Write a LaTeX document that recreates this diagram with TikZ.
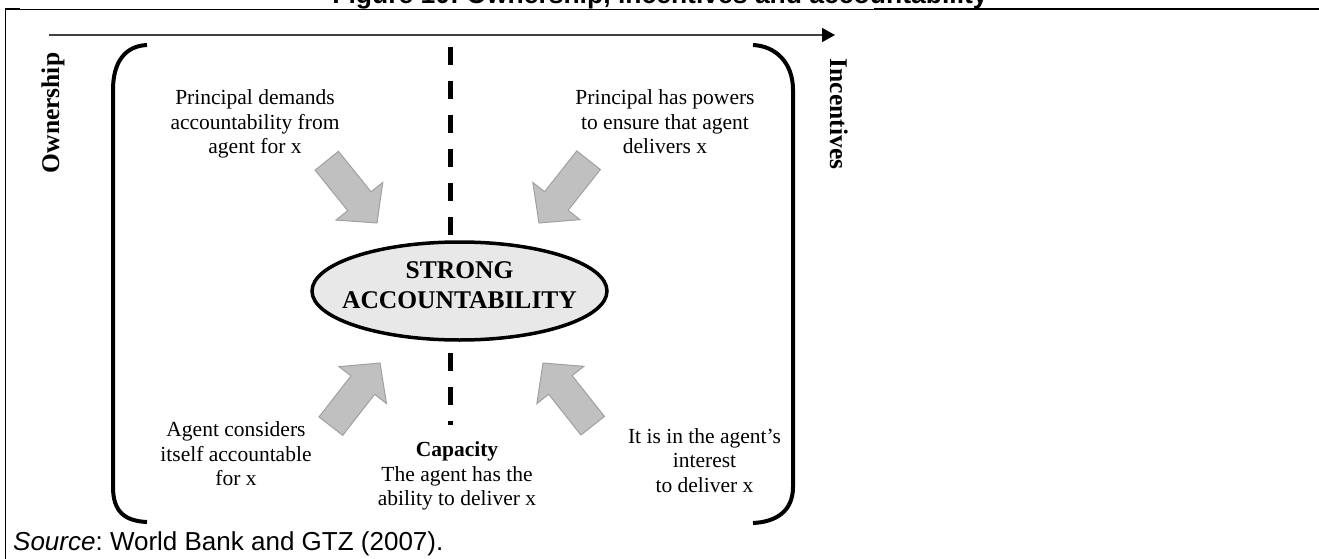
\documentclass[tikz,border=0pt]{standalone}
\usepackage{fontspec}
\setmainfont{Liberation Serif}
\newfontfamily\arialfont{Liberation Sans}
\usetikzlibrary{arrows.meta,shapes.geometric}
\definecolor{arrowfill}{HTML}{C0C0C0}
\definecolor{arrowedge}{HTML}{A0A0A0}
\definecolor{ellfill}{HTML}{E8E8E8}
\definecolor{axisgray}{HTML}{404040}
\frenchspacing
\tikzset{
  bodytext/.style={font=\fontsize{21.5}{24.5}\selectfont, align=center, inner sep=0pt, anchor=north},
  sidelabel/.style={font=\fontsize{25.5}{30}\selectfont\bfseries, inner sep=0pt, anchor=base},
  bracketline/.style={line width=4pt},
  blockarrow/.style={fill=arrowfill, draw=arrowedge, line width=1pt, line join=miter},
  dashline/.style={line width=5pt, dash pattern=on 18pt off 16pt},
}
\newcommand{\blockarr}[2]{%
  \draw[blockarrow, shift={(#1)}, rotate=#2] (0,0) -- (-28,30) -- (-28,15) -- (-80,15) -- (-80,-15) -- (-28,-15) -- (-28,-30) -- cycle;}
\begin{document}
\begin{tikzpicture}[x=1pt,y=-1pt]
\useasboundingbox (0,0) rectangle (1319,559);
% frame and title
\draw[line width=1pt] (5.5,559) -- (5.5,9.3) -- (874,9.3);
\draw[line width=2pt] (5,8.8) -- (20,8.8);
\draw[line width=2pt] (874,8.8) -- (1319,8.8);
\node[font=\arialfont\bfseries\fontsize{26.5}{30}\selectfont, anchor=base, inner sep=0pt] (title) at (660,4) {Figure 10: Ownership, incentives and accountability};
% horizontal axis arrow
\coordinate (axs) at (49,35);
\coordinate (axe) at (835,35);
\draw[axisgray, line width=1.5pt, -{Triangle[length=13pt,width=14pt,color=black]}] (axs) -- (axe);
% side labels
\node[sidelabel, rotate=90] (own) at (59,113) {Ownership};
\node[sidelabel, rotate=-90] (inc) at (830,114) {Incentives};
% brackets
\draw[bracketline] (147,45) .. controls (125,46) and (113,62) .. (113,90) -- (113,487) .. controls (113,512) and (125,521) .. (147,522);
\draw[bracketline] (753,45) .. controls (775,46) and (793,62) .. (793,90) -- (793,487) .. controls (793,512) and (775,522) .. (753,523);
% dashed divider
\coordinate (d0) at (450,47);
\coordinate (d1) at (450,425);
\draw[dashline] (d0) -- (d1);
% central ellipse
\node[draw, ellipse, line width=3.5pt, fill=ellfill, minimum width=295pt, minimum height=98pt, inner sep=0pt] (sa) at (459.5,291) {};
\node[font=\fontsize{25.5}{30}\selectfont\bfseries, align=center, inner sep=0pt, anchor=north] (satext) at (459.5,261.7) {STRONG\\ACCOUNTABILITY};
% block arrows
\coordinate (a1) at (377,223);
\coordinate (a2) at (539,223);
\coordinate (a3) at (380,363);
\coordinate (a4) at (543,363);
\blockarr{a1}{-51.1}
\blockarr{a2}{-128.3}
\blockarr{a3}{52.1}
\blockarr{a4}{128.4}
% texts
\node[bodytext] (t1) at (255,89.5) {Principal demands\\accountability from\\agent for x};
\node[bodytext] (t2) at (665,89.5) {Principal has powers\\to ensure that agent\\delivers x};
\node[bodytext] (t3) at (236,421.7) {Agent considers\\itself accountable\\for x};
\node[bodytext] (t4) at (457,441.7) {\textbf{Capacity}\\The agent has the\\ability to deliver x};
\node[bodytext] (t5) at (704.5,428.3) {It is in the agent’s\\interest\\to deliver x};
% source
\node[font=\arialfont\fontsize{26}{30}\selectfont, anchor=base west, inner sep=0pt] (src) at (13,550.5) {\textit{Source}: World Bank and GTZ (2007).};
\end{tikzpicture}
\end{document}
